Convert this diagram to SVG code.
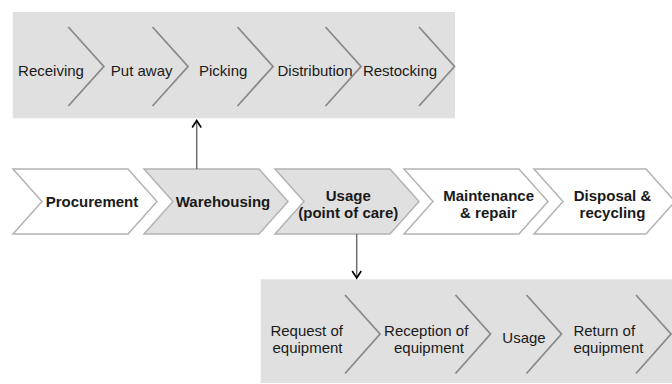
<svg xmlns="http://www.w3.org/2000/svg" width="672" height="384" viewBox="0 0 672 384">
  <defs>
    <style>
      .panel { fill: #e0e0e0; stroke: none; }
      .chev { fill: none; stroke: #8a8a8a; stroke-width: 1.8; }
      .step { stroke: #b3b3b3; stroke-width: 1.5; }
      .white { fill: #ffffff; }
      .gray { fill: #e0e0e0; }
      .t { font-family: "Liberation Sans", Arial, sans-serif; font-size: 15px; fill: #1a1a1a; }
      .b { font-weight: bold; }
      .m { text-anchor: middle; }
      .conn { stroke: #6e6e6e; stroke-width: 1.5; fill: none; }
      .head { stroke: #000; stroke-width: 1.6; fill: none; stroke-linejoin: miter; }
    </style>
  </defs>

  <!-- Warehousing sub-process panel -->
  <g id="warehousing-panel">
    <rect class="panel" x="12.7" y="12" width="442.3" height="106.3"/>
    <g id="receiving">
      <polyline class="chev" points="68.3,27 103.8,66.5 68.3,106"/>
      <text class="t m" x="51" y="75.5">Receiving</text>
    </g>
    <g id="put-away">
      <polyline class="chev" points="152.5,27 188,66.5 152.5,106"/>
      <text class="t m" x="141.7" y="75.5">Put away</text>
    </g>
    <g id="picking">
      <polyline class="chev" points="237.5,27 273,66.5 237.5,106"/>
      <text class="t m" x="223.2" y="75.5">Picking</text>
    </g>
    <g id="distribution">
      <polyline class="chev" points="325.5,27 361,66.5 325.5,106"/>
      <text class="t m" x="315" y="75.5">Distribution</text>
    </g>
    <g id="restocking">
      <polyline class="chev" points="419,27 454.5,66.5 419,106"/>
      <text class="t m" x="400" y="75.5">Restocking</text>
    </g>
  </g>

  <!-- Main value chain -->
  <g id="procurement">
    <polygon class="step white" points="13,169 128,169 157,201.5 128,234 13,234 42,201.5"/>
    <text class="t b m" x="92" y="207">Procurement</text>
  </g>
  <g id="warehousing">
    <polygon class="step gray" points="144,169 259,169 288,201.5 259,234 144,234 173,201.5"/>
    <text class="t b m" x="223" y="207">Warehousing</text>
  </g>
  <g id="usage-poc">
    <polygon class="step gray" points="275,169 390,169 419,201.5 390,234 275,234 304,201.5"/>
    <text class="t b m" x="348.3" y="201">Usage</text>
    <text class="t b m" x="348.3" y="218">(point of care)</text>
  </g>
  <g id="maintenance">
    <polygon class="step white" points="404,169 519,169 548,201.5 519,234 404,234 433,201.5"/>
    <text class="t b m" x="488.6" y="201">Maintenance</text>
    <text class="t b m" x="488.4" y="218">&amp; repair</text>
  </g>
  <g id="disposal">
    <polygon class="step white" points="534,169 646,169 675,201.5 646,234 534,234 563,201.5"/>
    <text class="t b m" x="612.5" y="201">Disposal &amp;</text>
    <text class="t b m" x="612.5" y="218">recycling</text>
  </g>

  <!-- Usage sub-process panel -->
  <g id="usage-panel">
    <rect class="panel" x="260.7" y="279.3" width="411.3" height="103.7"/>
    <g id="request">
      <polyline class="chev" points="345,295 380,334 345,373.5"/>
      <text class="t m" x="306.7" y="336">Request of</text>
      <text class="t m" x="307.5" y="353.3">equipment</text>
    </g>
    <g id="reception">
      <polyline class="chev" points="455.5,295 490.5,334 455.5,373.5"/>
      <text class="t m" x="426.2" y="336">Reception of</text>
      <text class="t m" x="429" y="353.3">equipment</text>
    </g>
    <g id="usage">
      <polyline class="chev" points="526.5,295 561.5,334 526.5,373.5"/>
      <text class="t m" x="524" y="343">Usage</text>
    </g>
    <g id="return">
      <polyline class="chev" points="636,295 671,334 636,373.5"/>
      <text class="t" x="573.4" y="336">Return of</text>
      <text class="t" x="573.4" y="353.3">equipment</text>
    </g>
  </g>

  <!-- Connectors -->
  <g id="connectors">
    <line class="conn" x1="196.7" y1="169" x2="196.7" y2="121"/>
    <polyline class="head" points="192.2,127.5 196.7,120.5 201.2,127.5"/>
    <line class="conn" x1="356.7" y1="234" x2="356.7" y2="277"/>
    <polyline class="head" points="352.2,271 356.7,278 361.2,271"/>
  </g>
</svg>
